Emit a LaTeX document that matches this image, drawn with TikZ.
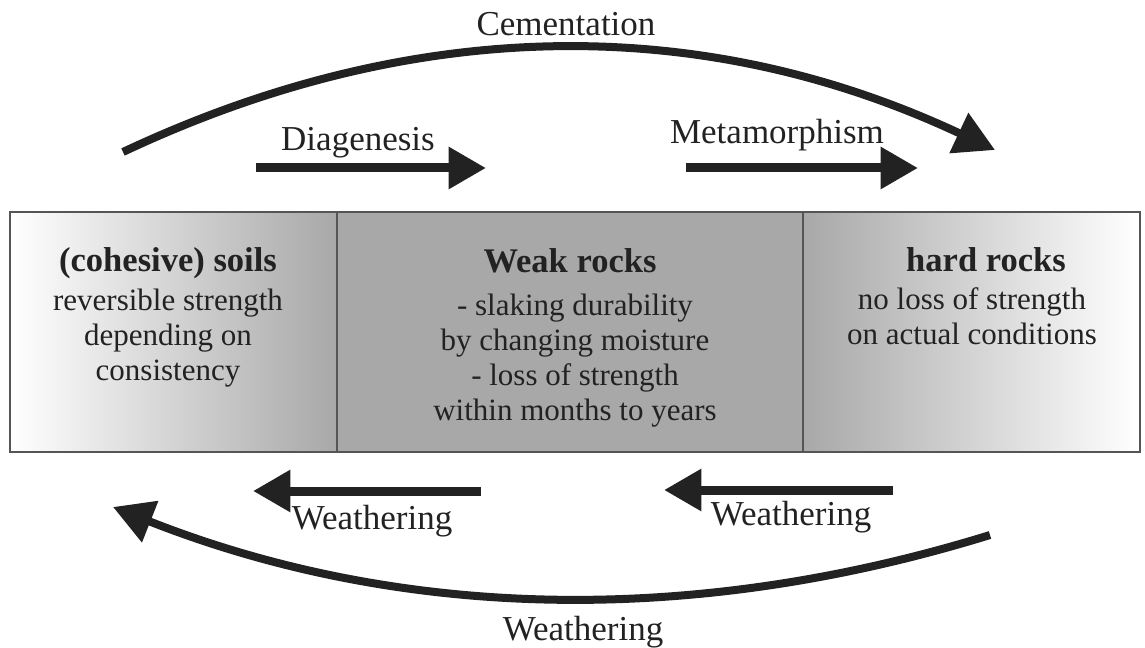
\documentclass[tikz,border=0pt]{standalone}
\usepackage{fontspec}
\setmainfont{Liberation Serif}
\usetikzlibrary{arrows.meta}
\definecolor{ink}{RGB}{34,34,34}
\definecolor{rockgray}{RGB}{168,168,168}
\definecolor{edgegray}{RGB}{85,85,85}
\tikzset{
  bigarrow/.style={draw=ink, line width=6.75pt, -{Triangle[length=28pt,width=30pt]}},
  curvearrow/.style={draw=ink, line width=6pt, -{Triangle[length=30pt,width=32pt]}},
  zone/.style={draw=edgegray, line width=0.9pt, minimum height=180pt, inner sep=0pt},
  proclabel/.style={anchor=base, text=ink, inner sep=0pt, font=\fontsize{26.25}{30}\selectfont},
  zonetitle/.style={anchor=base, text=ink, inner sep=0pt, font=\bfseries\fontsize{25.9}{30}\selectfont},
  zonetext/.style={anchor=north, align=center, text=ink, inner sep=0pt, font=\fontsize{23.25}{26.25}\selectfont}
}
\begin{document}
\begin{tikzpicture}[x=0.75pt,y=0.75pt,yscale=-1,xscale=1]
\useasboundingbox (0,0) rectangle (1145,648);

% zones
\node[zone, left color=white, right color=rockgray, minimum width=245.25pt] (soils) at (173.5,332) {};
\node[zone, fill=rockgray, minimum width=349.5pt] (weak) at (570,332) {};
\node[zone, left color=rockgray, right color=white, minimum width=252.75pt] (hard) at (971.5,332) {};

% zone texts
\node[zonetitle] (soilstitle) at (168,272) {(cohesive) soils};
\node[zonetext] (soilstext) at (168,289) {reversible strength\\depending on\\consistency};
\node[zonetitle] (weaktitle) at (570,273) {Weak rocks};
\node[zonetext] (weaktext) at (575,294) {- slaking durability\\by changing moisture\\- loss of strength\\within months to years};
\node[zonetitle] (hardtitle) at (986,272) {hard rocks};
\node[zonetext] (hardtext) at (972,287) {no loss of strength\\on actual conditions};

% arrow ends
\coordinate (diagA) at (256,168);
\coordinate (diagB) at (486,168);
\coordinate (metaA) at (686,168);
\coordinate (metaB) at (918,168);
\coordinate (weatA) at (481,491);
\coordinate (weatB) at (253,491);
\coordinate (weatC) at (893,490);
\coordinate (weatD) at (664,490);
\coordinate (cemA) at (123,152);
\coordinate (cemB) at (995,150);
\coordinate (weatE) at (990,535);
\coordinate (weatF) at (113,507);

% arrows
\draw[bigarrow] (diagA) -- (diagB);
\draw[bigarrow] (metaA) -- (metaB);
\draw[bigarrow] (weatA) -- (weatB);
\draw[bigarrow] (weatC) -- (weatD);
\draw[curvearrow] (cemA) .. controls (414,15) and (703,13) .. (cemB);
\draw[curvearrow] (weatE) .. controls (689,628) and (397,619) .. (weatF);

% labels
\node[proclabel] (cemlabel) at (566,36) {Cementation};
\node[proclabel] (diaglabel) at (358,151) {Diagenesis};
\node[proclabel] (metalabel) at (777,144) {Metamorphism};
\node[proclabel] (weatlabelA) at (372,529) {Weathering};
\node[proclabel] (weatlabelB) at (791,525) {Weathering};
\node[proclabel] (weatlabelC) at (583,640) {Weathering};

\end{tikzpicture}
\end{document}
